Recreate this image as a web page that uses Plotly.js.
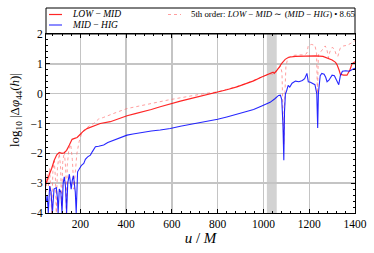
<!DOCTYPE html>
<html>
<head>
<meta charset="utf-8">
<script src="https://cdn.plot.ly/plotly-3.0.1.min.js"></script>
<style>html,body{margin:0;padding:0;background:#fff}#chart{width:374px;height:253px}</style>
</head>
<body>
<div id="chart"></div>
<script>
// ---- data ----
const uLowMid = [50,58,65,75,86,97,108,120,130,140,152,164,175,186,200,210,229,258,287,331,370,404,440,476,510,549,593,637,690,739,800,840,884,920,957,990,1022,1035,1042,1047,1052,1060,1070,1080,1095,1110,1140,1180,1227,1260,1280,1300,1315,1322,1330,1336,1350,1365,1378,1387,1400];
const vLowMid = [-3.0,-2.85,-2.73,-2.5,-2.23,-2.05,-1.97,-2.0,-1.98,-1.9,-1.72,-1.53,-1.5,-1.47,-1.36,-1.28,-1.17,-1.09,-1.0,-0.94,-0.83,-0.74,-0.67,-0.61,-0.53,-0.44,-0.34,-0.25,-0.15,-0.06,0.04,0.13,0.23,0.32,0.43,0.55,0.66,0.7,0.72,0.68,0.74,0.8,0.9,1.02,1.15,1.22,1.25,1.27,1.27,1.25,1.2,1.13,1.05,0.96,0.8,0.65,0.62,0.62,0.8,1.0,1.07];

const uMidHig = [52,55,60,66,72,78,85,95,100,103,108,115,120,125,130,135,140,145,152,160,165,170,178,182,188,196,205,215,222,232,244,252,266,280,302,320,346,370,404,430,476,510,549,593,637,690,739,800,840,884,920,957,990,1029,1050,1066,1074,1080,1085,1089,1092,1096,1100,1108,1115,1125,1140,1155,1170,1180,1190,1196,1205,1215,1225,1233,1237,1240,1248,1255,1265,1272,1278,1286,1300,1310,1322,1329,1336,1345,1360,1375,1390,1400];
const vMidHig = [-3.6,-3.4,-4.0,-3.1,-3.3,-4.0,-3.2,-3.15,-3.5,-4.0,-3.2,-3.3,-4.0,-3.0,-2.79,-3.1,-4.0,-3.0,-2.7,-3.2,-2.9,-2.75,-3.3,-4.0,-2.62,-2.5,-2.4,-2.34,-2.2,-2.12,-2.06,-1.95,-1.78,-1.76,-1.72,-1.64,-1.56,-1.47,-1.39,-1.35,-1.28,-1.25,-1.22,-1.17,-1.09,-1.02,-0.94,-0.86,-0.78,-0.69,-0.62,-0.53,-0.42,-0.29,-0.17,-0.06,-0.05,-0.2,-1.0,-2.23,-0.6,0.0,0.06,0.28,0.22,0.35,0.42,0.4,0.44,0.5,0.68,0.4,0.38,0.35,0.3,0.0,-1.15,0.0,0.6,0.68,0.65,0.55,0.4,0.45,0.62,0.6,0.4,0.3,0.6,0.75,0.77,0.75,0.82,0.85];

const uFifth = [50,55,60,66,71,75,80,86,91,95,100,108,114,118,123,130,136,139,143,150,158,165,172,177,185,195,205,215,230,245,258,270,280,300,331,360,404,440,476,510,549,585,622,680,739,800,840,884,920,957,990,1022,1035,1045,1055,1065,1075,1081,1085,1089,1093,1098,1105,1120,1150,1180,1190,1196,1210,1225,1232,1236,1240,1248,1260,1270,1278,1284,1290,1300,1310,1318,1325,1335,1350,1365,1380,1390,1400];
const vFifth = [-3.3,-2.7,-3.1,-2.5,-3.4,-4.0,-2.6,-2.25,-2.8,-4.0,-2.5,-2.0,-2.5,-3.8,-2.3,-1.95,-2.5,-4.0,-2.4,-1.85,-1.7,-2.2,-3.2,-2.6,-2.0,-1.6,-1.35,-1.22,-1.12,-1.05,-1.0,-0.92,-0.85,-0.8,-0.72,-0.62,-0.5,-0.44,-0.38,-0.32,-0.27,-0.21,-0.16,-0.08,0.0,0.06,0.14,0.24,0.33,0.44,0.55,0.65,0.66,0.64,0.72,0.83,0.92,0.7,-0.4,-1.7,-0.2,0.9,1.15,1.27,1.3,1.3,1.36,1.62,1.65,1.62,1.35,0.0,1.3,1.38,1.52,1.6,1.45,1.2,1.4,1.55,1.5,1.3,1.25,1.52,1.6,1.62,1.68,1.72,1.78];

const xTicks = [200,400,600,800,1000,1200,1400];
const yTicks = [-4,-3,-2,-1,0,1,2];
const xRange = [50,1400];
const yRange = [-4,2];
const band = [1015,1058];

const FONT = "Liberation Serif";
// plot box in pixels
const L = 46, R = 19, T = 34, B = 40, W = 374, H = 253;
const pw = W - L - R, ph = H - T - B;
const px = x => (x - L) / pw;
const py = y => (H - B - y) / ph;

const traces = [
  {x: uFifth, y: vFifth, mode: 'lines', name: '5th order',
   line: {color: 'rgba(255,110,110,0.75)', width: 0.9, dash: 'dot'}},
  {x: uLowMid, y: vLowMid, mode: 'lines', name: 'LOW − MID',
   line: {color: 'rgba(255,0,0,0.85)', width: 1.2}},
  {x: uMidHig, y: vMidHig, mode: 'lines', name: 'MID − HIG',
   line: {color: 'rgba(0,0,255,0.85)', width: 1.1}}
];

const axisCommon = {
  showline: true, linecolor: '#000', linewidth: 1, mirror: 'allticks',
  ticks: 'inside', ticklen: 4, tickcolor: '#000', tickwidth: 1,
  showgrid: true, gridcolor: '#c4c4c4', gridwidth: 1.4,
  zeroline: false, tickfont: {family: FONT, size: 11.5, color: '#000'}
};

const layout = {
  width: W, height: H,
  margin: {l: L, r: R, t: T, b: B, pad: 0},
  paper_bgcolor: '#fff', plot_bgcolor: '#fff',
  showlegend: false,
  font: {family: FONT, color: '#000'},
  xaxis: Object.assign({}, axisCommon, {
    range: xRange, tickmode: 'array', tickvals: xTicks, ticktext: xTicks.map(String),
    minor: {dtick: 40, tick0: 0, ticklen: 2, ticks: 'inside', tickcolor: '#000', showgrid: false},
    title: {text: '<i>u</i> / <i>M</i>', font: {family: FONT, size: 15}, standoff: 3}
  }),
  yaxis: Object.assign({}, axisCommon, {
    range: yRange, tickmode: 'array', tickvals: yTicks, ticktext: yTicks.map(v => v < 0 ? '−' + Math.abs(v) : String(v)),
    minor: {dtick: 0.2, tick0: 0, ticklen: 2, ticks: 'inside', tickcolor: '#000', showgrid: false}
  }),
  shapes: [
    {type: 'rect', xref: 'x', yref: 'paper', x0: band[0], x1: band[1], y0: 0, y1: 1,
     fillcolor: '#d2d2d2', line: {width: 0}, layer: 'below'},
    {type: 'rect', xref: 'paper', yref: 'paper', x0: 0, x1: 1, y0: 1, y1: py(8),
     line: {color: '#000', width: 1}, fillcolor: 'rgba(0,0,0,0)'},
    {type: 'line', xref: 'paper', yref: 'paper', x0: px(49), x1: px(62), y0: py(14.5), y1: py(14.5),
     line: {color: 'rgba(255,0,0,0.85)', width: 1.2}},
    {type: 'line', xref: 'paper', yref: 'paper', x0: px(49), x1: px(62), y0: py(25), y1: py(25),
     line: {color: 'rgba(90,90,255,0.7)', width: 2}},
    {type: 'line', xref: 'paper', yref: 'paper', x0: px(168), x1: px(181), y0: py(14.5), y1: py(14.5),
     line: {color: 'rgba(255,110,110,0.75)', width: 0.9, dash: 'dot'}}
  ],
  annotations: [
    {xref: 'paper', yref: 'paper', x: px(70), y: py(14.5), xanchor: 'left', yanchor: 'middle', showarrow: false,
     text: '<i>LOW</i> − <i>MID</i>', font: {family: FONT, size: 9.5}},
    {xref: 'paper', yref: 'paper', x: px(70), y: py(25), xanchor: 'left', yanchor: 'middle', showarrow: false,
     text: '<i>MID</i> − <i>HIG</i>', font: {family: FONT, size: 9.5}},
    {xref: 'paper', yref: 'paper', x: px(189), y: py(14.5), xanchor: 'left', yanchor: 'middle', showarrow: false,
     text: '5th order: <i>LOW</i> − <i>MID</i> ∼ (<i>MID</i> − <i>HIG</i>) • 8.65', font: {family: FONT, size: 8.8}},
    {xref: 'paper', yref: 'paper', x: px(15), y: py(110), xanchor: 'center', yanchor: 'middle', showarrow: false,
     textangle: -90, text: 'log<sub>10</sub> |Δ<i>φ</i><sub>44</sub>(<i>h</i>)|', font: {family: FONT, size: 13}}
  ]
};

Plotly.newPlot('chart', traces, layout, {displayModeBar: false, staticPlot: true});
</script>
</body>
</html>
